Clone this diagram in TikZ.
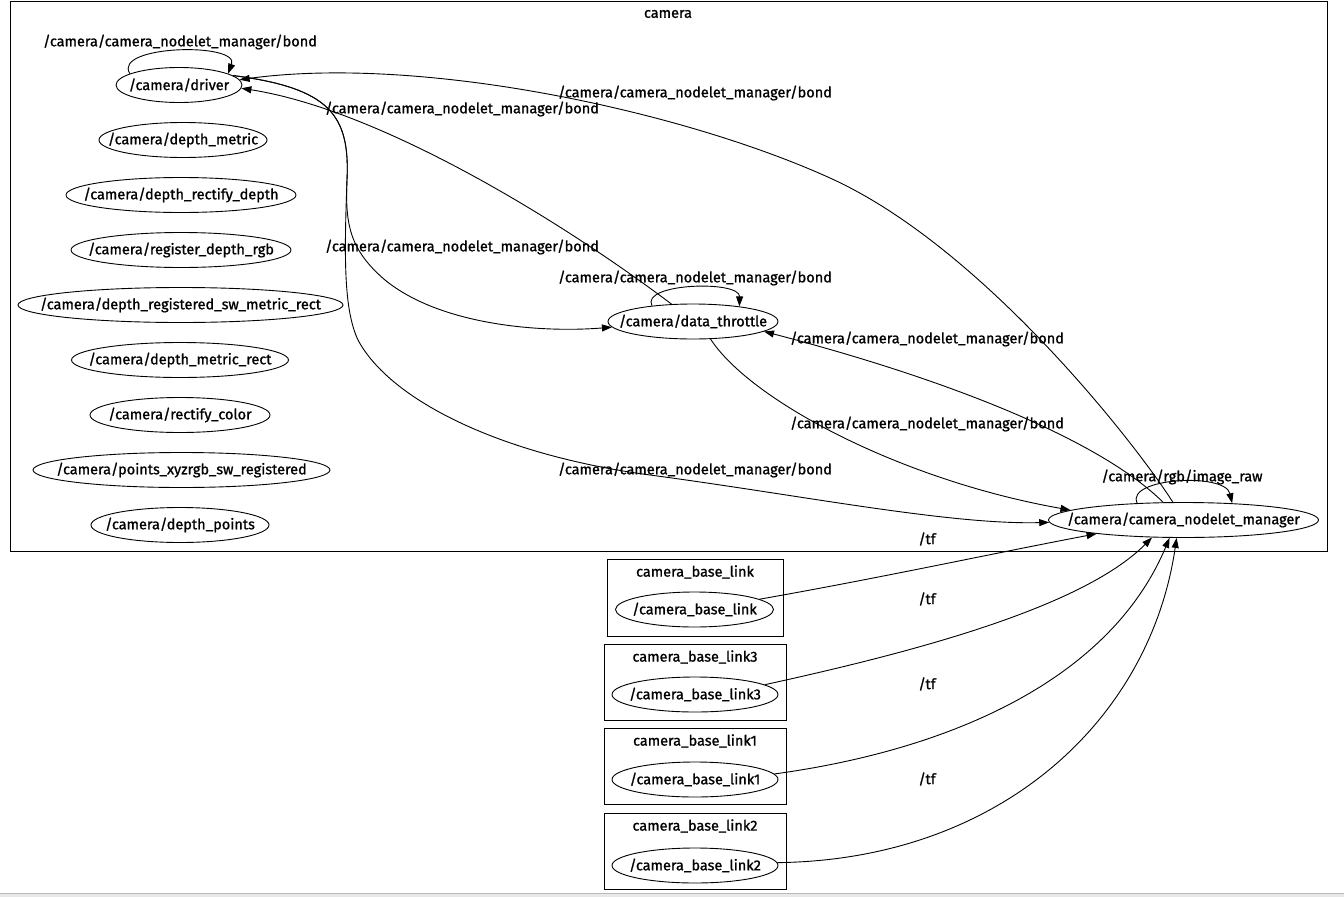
\documentclass[tikz,border=0pt]{standalone}
\usepackage{fontspec}
\setmainfont{Fira Sans}
\newfontfamily\lblfont{Fira Sans}[FakeBold=1.1]
\usetikzlibrary{shapes.geometric,arrows.meta}
\begin{document}
\begin{tikzpicture}[x=1pt,y=-1pt,
  txt/.style={font=\lblfont\fontsize{14.5}{16}\selectfont, inner sep=0pt},
  nd/.style={ellipse, draw, line width=0.9pt, inner sep=0pt, minimum height=35pt},
  clus/.style={draw, line width=0.9pt, inner sep=0pt},
  edge/.style={line width=0.9pt, -{Triangle[length=10pt,width=7pt]}}]
\useasboundingbox (0,0) rectangle (1344,897);
\fill[gray!18] (0,893) rectangle (1344,897);
\draw[gray!55, line width=1pt] (0,893.5) -- (1344,893.5);

% clusters
\node[clus, minimum width=1317pt, minimum height=550pt] (cam) at (668.5,276) {};
\node[txt] (camt) at (668,14) {camera};
\node[clus, minimum width=176pt, minimum height=77pt] (cbl) at (695,597.5) {};
\node[txt] (cblt) at (695,572) {camera\_base\_link};
\node[clus, minimum width=182pt, minimum height=76pt] (cbl3) at (695,682) {};
\node[txt] (cbl3t) at (695,657) {camera\_base\_link3};
\node[clus, minimum width=182pt, minimum height=76pt] (cbl1) at (695,766.5) {};
\node[txt] (cbl1t) at (695,741) {camera\_base\_link1};
\node[clus, minimum width=182pt, minimum height=76pt] (cbl2) at (695,851) {};
\node[txt] (cbl2t) at (695,826) {camera\_base\_link2};

% nodes
\node[nd, minimum width=126pt, label={[txt]center:/camera/driver}] (drv) at (179,85) {};
\node[nd, minimum width=168pt, label={[txt]center:/camera/depth\_metric}] (dm) at (183,140) {};
\node[nd, minimum width=230pt, label={[txt]center:/camera/depth\_rectify\_depth}] (drd) at (181,195) {};
\node[nd, minimum width=220pt, label={[txt]center:/camera/register\_depth\_rgb}] (rdr) at (181,250) {};
\node[nd, minimum width=325pt, label={[txt]center:/camera/depth\_registered\_sw\_metric\_rect}] (drsm) at (180.5,305) {};
\node[nd, minimum width=217pt, label={[txt]center:/camera/depth\_metric\_rect}] (dmr) at (180,360) {};
\node[nd, minimum width=180pt, label={[txt]center:/camera/rectify\_color}] (rc) at (180,415) {};
\node[nd, minimum width=297pt, label={[txt]center:/camera/points\_xyzrgb\_sw\_registered}] (pxyz) at (181.5,470) {};
\node[nd, minimum width=178pt, label={[txt]center:/camera/depth\_points}] (dp) at (180,525) {};
\node[nd, minimum width=170pt, label={[txt]center:/camera/data\_throttle}] (dt) at (693,321.5) {};
\node[nd, minimum width=270pt, label={[txt]center:/camera/camera\_nodelet\_manager}] (mgr) at (1183.5,520) {};
\node[nd, minimum width=158pt, label={[txt]center:/camera\_base\_link}] (bl) at (694.5,609.5) {};
\node[nd, minimum width=166pt, label={[txt]center:/camera\_base\_link3}] (bl3) at (695,694.5) {};
\node[nd, minimum width=166pt, label={[txt]center:/camera\_base\_link1}] (bl1) at (695,779.5) {};
\node[nd, minimum width=166pt, label={[txt]center:/camera\_base\_link2}] (bl2) at (695,865.5) {};

% edge labels
\node[txt] (l1) at (180,42) {/camera/camera\_nodelet\_manager/bond};
\node[txt] (l2) at (695,93) {/camera/camera\_nodelet\_manager/bond};
\node[txt] (l3) at (462,109) {/camera/camera\_nodelet\_manager/bond};
\node[txt] (l4) at (462,247) {/camera/camera\_nodelet\_manager/bond};
\node[txt] (l5) at (695,278) {/camera/camera\_nodelet\_manager/bond};
\node[txt] (l6) at (927,339) {/camera/camera\_nodelet\_manager/bond};
\node[txt] (l7) at (927,424) {/camera/camera\_nodelet\_manager/bond};
\node[txt] (l8) at (695,470) {/camera/camera\_nodelet\_manager/bond};
\node[txt] (l9) at (1182,477) {/camera/rgb/image\_raw};
\node[txt] (t1) at (927,539) {/tf};
\node[txt] (t2) at (927,599) {/tf};
\node[txt] (t3) at (927,684) {/tf};
\node[txt] (t4) at (927,779) {/tf};

% edges
% driver self loop
\draw[edge] (drv.167) .. controls (112,45) and (240,42) .. (drv.13);
% manager -> driver
\draw[edge] (mgr.121) .. controls (1140,450) and (985,248) .. (830,178)
  .. controls (680,110) and (420,55) .. (drv.5);
% data_throttle -> driver
\draw[edge] (dt.141) .. controls (560,220) and (380,110) .. (drv.-3);
% driver -> data_throttle
\draw[edge] (drv.10) .. controls (330,88) and (350,115) .. (347,180)
  .. controls (345,225) and (350,250) .. (385,280)
  .. controls (440,325) and (540,333) .. (dt.184);
% driver -> manager
\draw[edge] (drv.10) .. controls (330,88) and (350,115) .. (347,180)
  .. controls (344,260) and (344,310) .. (358,340)
  .. controls (390,400) and (500,455) .. (650,475)
  .. controls (800,495) and (950,525) .. (mgr.181.5);
% data_throttle self loop
\draw[edge] (dt.159) .. controls (640,283) and (740,280) .. (dt.18.8);
% data_throttle -> manager
\draw[edge] (dt.315) .. controls (750,400) and (900,480) .. (mgr.175);
% manager -> data_throttle
\draw[edge] (mgr.139.8) .. controls (1100,440) and (950,380) .. (dt.352.6);
% manager self loop
\draw[edge] (mgr.160.6) .. controls (1125,478) and (1225,472) .. (mgr.19.4);
% tf edges
\draw[edge] (bl.9) .. controls (880,578) and (1000,552) .. (mgr.189.3);
\draw[edge] (bl3.8) .. controls (900,655) and (1080,610) .. (mgr.209);
\draw[edge] (bl1.4) .. controls (950,750) and (1110,680) .. (mgr.232.2);
\draw[edge] (bl2.2) .. controls (1000,860) and (1150,720) .. (mgr.249.5);
\end{tikzpicture}
\end{document}
